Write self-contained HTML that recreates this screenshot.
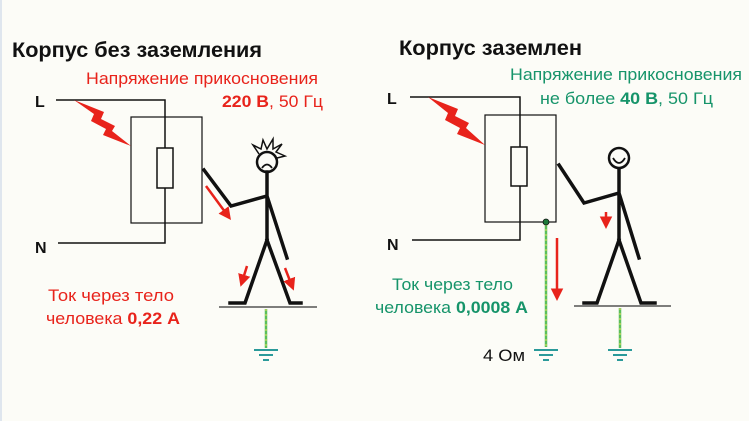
<!DOCTYPE html>
<html><head><meta charset="utf-8"><style>
body{margin:0;background:#fcfcf7;}
svg{display:block}
text{font-family:"Liberation Sans",sans-serif;}
</style></head><body>
<svg width="749" height="421" viewBox="0 0 749 421" xmlns="http://www.w3.org/2000/svg">
<rect width="749" height="421" fill="#fcfcf7"/>
<rect x="0" y="0" width="2" height="421" fill="#dfe6ee"/>
<defs>
<marker id="ar" markerWidth="6" markerHeight="6" refX="3" refY="3" orient="auto" markerUnits="strokeWidth"><path d="M0,0.5 L5,3 L0,5.5z" fill="#e8231b"/></marker>
</defs>
<!-- LEFT -->
<text x="12" y="57" font-size="21.5" font-weight="bold" fill="#111" textLength="250" lengthAdjust="spacingAndGlyphs">Корпус без заземления</text>
<text x="86" y="84" font-size="17" fill="#e8231b" textLength="232" lengthAdjust="spacingAndGlyphs">Напряжение прикосновения</text>
<text x="222" y="107" font-size="17" fill="#e8231b" textLength="101" lengthAdjust="spacingAndGlyphs"><tspan font-weight="bold">220 В</tspan>, 50 Гц</text>
<text x="35" y="107" font-size="16" font-weight="bold" fill="#111">L</text>
<text x="35" y="253" font-size="16" font-weight="bold" fill="#111">N</text>
<g fill="none" stroke="#111" stroke-width="1.5">
<path d="M56,100 H165 V243 H58"/>
<rect x="131" y="117" width="71" height="106" stroke-width="1.2"/>
<rect x="157" y="148" width="16" height="40" fill="#fcfcf7"/>
</g>
<path d="M74,100 L104,112 L101,119 L115,126 L112,131 L131,146 L103,135 L106,129 L91,121 L94,114z" fill="#e8231b"/>
<g fill="none" stroke="#111" stroke-width="3.5" stroke-linecap="square">
<circle cx="267" cy="162" r="10" stroke-width="2.5"/>
<path d="M267,172 V240 M204,170 L231,206 L267,196 L287,258 M267,240 L245,303 H230 M267,240 L290,303 H301"/>
</g>
<path d="M259,154 L253,145 L261,149 L263,140 L267,149 L273,139 L273,149 L282,144 L276,152 L285,156 L277,158" fill="none" stroke="#111" stroke-width="1.5"/>
<path d="M262,168 Q267,161 272,168" fill="none" stroke="#111" stroke-width="1.8"/>
<line x1="219" y1="307" x2="317" y2="307" stroke="#333" stroke-width="1.3"/>
<line x1="266" y1="309" x2="266" y2="348" stroke="#5bbf5b" stroke-width="2.5"/>
<line x1="266" y1="309" x2="266" y2="348" stroke="#e8e05a" stroke-width="1" stroke-dasharray="2,3"/>
<g stroke="#2a9a9a" stroke-width="2"><line x1="254" y1="350" x2="278" y2="350"/><line x1="259" y1="355" x2="273" y2="355"/><line x1="263" y1="360" x2="269" y2="360"/></g>
<g stroke="#e8231b" stroke-width="2.5" marker-end="url(#ar)">
<line x1="206" y1="186" x2="228" y2="216"/>
<line x1="247" y1="266" x2="242" y2="282"/>
<line x1="285" y1="268" x2="292" y2="286"/>
</g>
<text x="48" y="301" font-size="17" fill="#e8231b" textLength="126" lengthAdjust="spacingAndGlyphs">Ток через тело</text>
<text x="46" y="324" font-size="17" fill="#e8231b" textLength="134" lengthAdjust="spacingAndGlyphs">человека <tspan font-weight="bold">0,22 А</tspan></text>
<!-- RIGHT -->
<text x="399" y="55" font-size="21.5" font-weight="bold" fill="#111" textLength="183" lengthAdjust="spacingAndGlyphs">Корпус заземлен</text>
<text x="510" y="80" font-size="17" fill="#16946a" textLength="232" lengthAdjust="spacingAndGlyphs">Напряжение прикосновения</text>
<text x="540" y="104" font-size="17" fill="#16946a" textLength="173" lengthAdjust="spacingAndGlyphs">не более <tspan font-weight="bold">40 В</tspan>, 50 Гц</text>
<text x="387" y="104" font-size="16" font-weight="bold" fill="#111">L</text>
<text x="387" y="250" font-size="16" font-weight="bold" fill="#111">N</text>
<g fill="none" stroke="#111" stroke-width="1.5">
<path d="M410,97 H520 V240 H412"/>
<rect x="485" y="115" width="71" height="107" stroke-width="1.2"/>
<rect x="511" y="147" width="16" height="39" fill="#fcfcf7"/>
</g>
<path d="M428,97 L458,109 L455,116 L469,123 L466,128 L485,145 L457,134 L460,128 L445,120 L448,113z" fill="#e8231b"/>
<line x1="546" y1="224" x2="546" y2="347" stroke="#5bbf5b" stroke-width="2.5"/>
<line x1="546" y1="224" x2="546" y2="347" stroke="#e8e05a" stroke-width="1" stroke-dasharray="2,3"/>
<circle cx="546" cy="222" r="3" fill="#1d7a3a" stroke="#111" stroke-width="0.8"/>
<g stroke="#2a9a9a" stroke-width="2"><line x1="534" y1="350" x2="558" y2="350"/><line x1="539" y1="355" x2="553" y2="355"/><line x1="543" y1="360" x2="549" y2="360"/></g>
<text x="483" y="361" font-size="17" fill="#111" textLength="42" lengthAdjust="spacingAndGlyphs">4 Ом</text>
<g fill="none" stroke="#111" stroke-width="3.5" stroke-linecap="square">
<circle cx="619" cy="158" r="10" stroke-width="2.5"/>
<path d="M619,170 V240 M559,165 L584,203 L619,193 L639,258 M619,240 L597,303 H584 M619,240 L641,303 H655"/>
</g>
<path d="M613,158 Q619,168 625,158" fill="none" stroke="#111" stroke-width="1.8"/>
<line x1="574" y1="306" x2="671" y2="306" stroke="#333" stroke-width="1.3"/>
<line x1="620" y1="308" x2="620" y2="348" stroke="#5bbf5b" stroke-width="2.5"/>
<line x1="620" y1="308" x2="620" y2="348" stroke="#e8e05a" stroke-width="1" stroke-dasharray="2,3"/>
<g stroke="#2a9a9a" stroke-width="2"><line x1="608" y1="350" x2="632" y2="350"/><line x1="613" y1="355" x2="627" y2="355"/><line x1="617" y1="360" x2="623" y2="360"/></g>
<g stroke="#e8231b" stroke-width="2.5" marker-end="url(#ar)">
<line x1="606" y1="212" x2="606" y2="224"/>
<line x1="557" y1="238" x2="557" y2="296"/>
</g>
<text x="392" y="290" font-size="17" fill="#16946a" textLength="121" lengthAdjust="spacingAndGlyphs">Ток через тело</text>
<text x="375" y="313" font-size="17" fill="#16946a" textLength="153" lengthAdjust="spacingAndGlyphs">человека <tspan font-weight="bold">0,0008 А</tspan></text>
</svg>
</body></html>
